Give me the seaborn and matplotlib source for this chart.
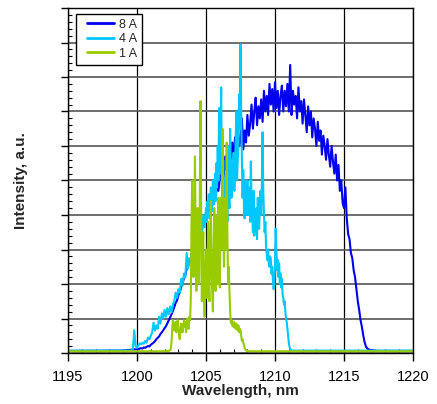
import numpy as np
import pandas as pd
import seaborn as sns
import matplotlib
matplotlib.use('Agg')
import matplotlib.pyplot as plt
from matplotlib.ticker import MultipleLocator
from matplotlib.lines import Line2D
from matplotlib.legend_handler import HandlerLine2D

sns.set_style('ticks')
plt.rcParams['font.family'] = ['Liberation Sans', 'DejaVu Sans']

# wavelength range of the plot, nm
wl_min, wl_max = 1195, 1220

# 8 A spectrum: 0.1 nm steps from 1199.0 nm
start_8a, step_8a = 1199.0, 0.1
base_8a = 0.006
int_8a = [
    0.007, 0.008, 0.007, 0.009, 0.008, 0.009, 0.010, 0.009, 0.011, 0.010,
    0.012, 0.011, 0.013, 0.014, 0.013, 0.016, 0.015, 0.018, 0.020, 0.019,
    0.024, 0.027, 0.030, 0.034, 0.040, 0.044, 0.048, 0.055, 0.060, 0.066,
    0.072, 0.078, 0.086, 0.095, 0.103, 0.112, 0.122, 0.133, 0.145, 0.152,
    0.168, 0.175, 0.192, 0.200, 0.218, 0.225, 0.245, 0.250, 0.272, 0.270,
    0.295, 0.292, 0.318, 0.310, 0.340, 0.335, 0.362, 0.355, 0.385, 0.378,
    0.395, 0.430, 0.405, 0.455, 0.420, 0.440, 0.475, 0.445, 0.500, 0.470,
    0.505, 0.545, 0.490, 0.520, 0.570, 0.525, 0.600, 0.540, 0.565, 0.610,
    0.560, 0.625, 0.585, 0.660, 0.600, 0.615, 0.680, 0.590, 0.645, 0.610,
    0.690, 0.630, 0.665, 0.720, 0.650, 0.700, 0.740, 0.660, 0.715, 0.680,
    0.735, 0.670, 0.760, 0.700, 0.745, 0.690, 0.780, 0.720, 0.765, 0.700,
    0.785, 0.710, 0.760, 0.690, 0.745, 0.775, 0.700, 0.760, 0.715, 0.780,
    0.700, 0.835, 0.690, 0.760, 0.720, 0.745, 0.680, 0.770, 0.700, 0.730,
    0.665, 0.735, 0.690, 0.640, 0.715, 0.660, 0.700, 0.625, 0.680, 0.650,
    0.600, 0.670, 0.615, 0.645, 0.575, 0.630, 0.600, 0.560, 0.620, 0.575,
    0.540, 0.600, 0.555, 0.520, 0.575, 0.500, 0.545, 0.470, 0.500, 0.435,
    0.420, 0.480, 0.390, 0.345, 0.330, 0.290, 0.275, 0.240, 0.220, 0.185,
    0.150, 0.125, 0.095, 0.075, 0.050, 0.030, 0.018, 0.013, 0.010, 0.009,
    0.008, 0.008, 0.007, 0.007, 0.006, 0.006,
]

# 4 A spectrum: 0.1 nm steps from 1199.5 nm, then 0.05 nm steps from 1205.0 nm
start_4a, step_4a = 1199.5, 0.1
base_4a = 0.007
int_4a = [
    0.007, 0.008, 0.010, 0.066, 0.020,
    0.015, 0.022, 0.028, 0.025, 0.030, 0.027, 0.035, 0.030, 0.045, 0.040,
    0.050, 0.060, 0.088, 0.065, 0.080, 0.070, 0.105, 0.085, 0.115, 0.100,
    0.125, 0.105, 0.130, 0.112, 0.135, 0.118, 0.140, 0.150, 0.175, 0.160,
    0.185, 0.175, 0.215, 0.195, 0.230, 0.220, 0.290, 0.245, 0.275, 0.260,
    0.300, 0.275, 0.320, 0.295, 0.345, 0.320, 0.370, 0.340, 0.400, 0.365,
]
start_4a_fine, step_4a_fine = 1205.0, 0.05
int_4a_fine = [
    0.420, 0.380, 0.440, 0.400, 0.460, 0.390, 0.430, 0.480, 0.410, 0.450,
    0.500, 0.430, 0.470, 0.520, 0.440, 0.550, 0.480, 0.600, 0.500, 0.710,
    0.520, 0.620, 0.770, 0.480, 0.450, 0.560, 0.420, 0.500, 0.400, 0.520,
    0.450, 0.380, 0.600, 0.470, 0.420, 0.650, 0.500, 0.450, 0.550, 0.480,
    0.580, 0.470, 0.520, 0.620, 0.700, 0.500, 0.560, 0.600, 0.750, 0.650,
    0.895, 0.700, 0.560, 0.450, 0.530, 0.420, 0.390, 0.500, 0.400, 0.460,
    0.500, 0.400, 0.420, 0.480, 0.380, 0.555, 0.450, 0.400, 0.350, 0.470,
    0.340, 0.385, 0.360, 0.420, 0.330, 0.450, 0.380, 0.360, 0.420, 0.470,
    0.400, 0.500, 0.640, 0.470, 0.400, 0.350, 0.380, 0.310, 0.290, 0.270,
    0.300, 0.260, 0.250, 0.280, 0.270, 0.230, 0.250, 0.210, 0.185, 0.200,
    0.250, 0.360, 0.300, 0.240, 0.270, 0.220, 0.260, 0.200, 0.230, 0.190,
    0.215, 0.170, 0.160, 0.140, 0.150, 0.120, 0.100, 0.090, 0.070, 0.050,
    0.030, 0.018, 0.012, 0.009, 0.008, 0.007, 0.007, 0.007, 0.007, 0.007,
    0.007,
]

# 1 A spectrum: 0.05 nm steps from 1202.0 nm
start_1a, step_1a = 1202.0, 0.05
base_1a = 0.005
int_1a = [
    0.005, 0.005, 0.005, 0.006, 0.006, 0.006, 0.006, 0.007, 0.008, 0.012,
    0.030, 0.070, 0.095, 0.080, 0.065, 0.085, 0.090, 0.060, 0.070, 0.095,
    0.075, 0.050, 0.040, 0.065, 0.085, 0.070, 0.060, 0.080, 0.095, 0.075,
    0.090, 0.060, 0.075, 0.100, 0.085, 0.070, 0.105, 0.095, 0.160, 0.380,
    0.500, 0.300, 0.220, 0.380, 0.570, 0.350, 0.180, 0.260, 0.420, 0.240,
    0.200, 0.450, 0.730, 0.400, 0.150, 0.280, 0.350, 0.180, 0.105, 0.220,
    0.300, 0.160, 0.250, 0.380, 0.200, 0.150, 0.320, 0.440, 0.250, 0.180,
    0.120, 0.300, 0.420, 0.260, 0.180, 0.400, 0.300, 0.200, 0.450, 0.250,
    0.190, 0.350, 0.450, 0.300, 0.650, 0.380, 0.250, 0.330, 0.450, 0.300,
    0.610, 0.350, 0.200, 0.250, 0.180, 0.120, 0.087, 0.095, 0.080, 0.085,
    0.075, 0.090, 0.080, 0.070, 0.085, 0.075, 0.065, 0.080, 0.060, 0.070,
    0.067, 0.050, 0.035, 0.040, 0.030, 0.025, 0.015, 0.010, 0.008, 0.006,
    0.006, 0.005, 0.005,
]

labels = ['8 A', '4 A', '1 A']
colors = ['#0000f0', '#00c8ff', '#99cc00']


def spectrum(segments, base):
    wl = [np.array([wl_min])]
    inten = [np.array([base])]
    for start, stp, vals in segments:
        wl.append(start + stp * np.arange(len(vals)))
        inten.append(np.asarray(vals))
    wl.append(np.array([wl_max]))
    inten.append(np.array([base]))
    return pd.DataFrame({'wl': np.concatenate(wl), 'I': np.concatenate(inten)})


series = [
    spectrum([(start_8a, step_8a, int_8a)], base_8a),
    spectrum([(start_4a, step_4a, int_4a),
              (start_4a_fine, step_4a_fine, int_4a_fine)], base_4a),
    spectrum([(start_1a, step_1a, int_1a)], base_1a),
]

fig = plt.figure(figsize=(4.37, 4.04), dpi=100)
ax = fig.add_axes([68 / 437, 51 / 404, 345 / 437, 345 / 404])

for df, lab, col in zip(series, labels, colors):
    sns.lineplot(data=df, x='wl', y='I', ax=ax, color=col, lw=1.5,
                 label=lab, estimator=None, sort=False)

ax.set_xlim(wl_min, wl_max)
ax.set_ylim(0, 1)
ax.xaxis.set_major_locator(MultipleLocator(5))
ax.xaxis.set_minor_locator(MultipleLocator(1))
ax.yaxis.set_major_locator(MultipleLocator(0.1))
ax.yaxis.set_minor_locator(MultipleLocator(0.02))

ax.set_axisbelow(True)
ax.grid(which='major', axis='x', color='black', lw=0.9)
ax.grid(which='major', axis='y', color='#555555', lw=1.2)

ax.tick_params(axis='x', which='major', direction='out', length=6, width=1,
               color='black', labelsize=10.5, pad=6, labelcolor='black')
ax.tick_params(axis='x', which='minor', direction='in', length=3, width=0.8,
               color='black')
ax.tick_params(axis='y', which='major', direction='out', length=5, width=1,
               color='black', labelleft=False)
ax.tick_params(axis='y', which='minor', direction='in', length=3, width=0.8,
               color='black')

for sp in ax.spines.values():
    sp.set_color('black')
    sp.set_linewidth(1.0)

ax.set_xlabel('Wavelength, nm', fontsize=11, fontweight='bold')
ax.set_ylabel('Intensity, a.u.', fontsize=11, fontweight='bold')
ax.xaxis.set_label_coords(0.5, -0.09)
ax.yaxis.set_label_coords(-0.117, 0.5)

leg = ax.legend(loc='upper left', bbox_to_anchor=(7.7 / 345, 1 - 6 / 345),
                borderaxespad=0, frameon=True, fancybox=False,
                edgecolor='black', framealpha=1, fontsize=9,
                handlelength=2.7, handletextpad=0.4, labelspacing=0.2,
                borderpad=0.38,
                handler_map={Line2D: HandlerLine2D(xpad=0.55)})
leg.get_frame().set_linewidth(1.0)
for line in leg.get_lines():
    line.set_linewidth(2.0)

fig.savefig('out.png', dpi=100, facecolor='white')
